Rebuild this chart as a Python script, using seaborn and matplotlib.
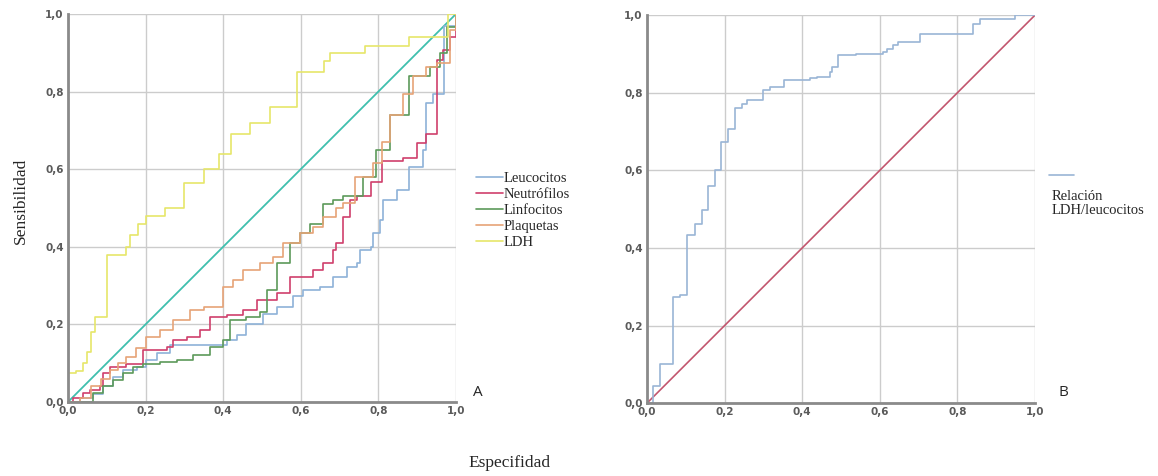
import numpy as np
import pandas as pd
import matplotlib
matplotlib.use("Agg")
import matplotlib.pyplot as plt
from matplotlib.lines import Line2D
import seaborn as sns

# Panel A - ROC curves (x = 1 - especificidad, y = sensibilidad)
leuco_x = [0.0, 0.03, 0.065, 0.09, 0.117, 0.143, 0.177, 0.2, 0.229, 0.263, 0.41, 0.435, 0.46, 0.503, 0.538,
           0.58, 0.607, 0.65, 0.684, 0.72, 0.745, 0.754, 0.78, 0.787, 0.804, 0.813, 0.847, 0.88, 0.916,
           0.924, 0.94, 0.97, 1.0]
leuco_y = [0.0, 0.01, 0.02, 0.04, 0.065, 0.082, 0.09, 0.108, 0.125, 0.147, 0.16, 0.172, 0.2, 0.228, 0.246,
           0.272, 0.289, 0.297, 0.323, 0.349, 0.357, 0.392, 0.4, 0.435, 0.469, 0.52, 0.547, 0.607, 0.65,
           0.77, 0.795, 0.97, 1.0]

neutro_x = [0.0, 0.014, 0.04, 0.057, 0.083, 0.09, 0.108, 0.15, 0.194, 0.254, 0.27, 0.306, 0.34, 0.366,
            0.41, 0.452, 0.486, 0.538, 0.572, 0.632, 0.658, 0.684, 0.692, 0.71, 0.727, 0.744, 0.78, 0.81,
            0.864, 0.9, 0.924, 0.95, 0.967, 0.984, 1.0]
neutro_y = [0.0, 0.01, 0.022, 0.03, 0.04, 0.074, 0.09, 0.099, 0.134, 0.143, 0.16, 0.168, 0.186, 0.22,
            0.224, 0.237, 0.263, 0.28, 0.323, 0.34, 0.357, 0.392, 0.409, 0.478, 0.52, 0.53, 0.566, 0.62,
            0.63, 0.667, 0.69, 0.882, 0.907, 0.94, 1.0]

linfo_x = [0.0, 0.065, 0.09, 0.117, 0.143, 0.168, 0.194, 0.237, 0.28, 0.323, 0.366, 0.40, 0.417, 0.46,
           0.495, 0.512, 0.538, 0.572, 0.598, 0.624, 0.658, 0.684, 0.71, 0.76, 0.795, 0.83, 0.88, 0.933,
           0.96, 0.977, 1.0]
linfo_y = [0.0, 0.022, 0.04, 0.057, 0.074, 0.09, 0.099, 0.103, 0.108, 0.121, 0.143, 0.16, 0.211, 0.22,
           0.233, 0.289, 0.357, 0.409, 0.435, 0.46, 0.511, 0.52, 0.53, 0.58, 0.65, 0.74, 0.84, 0.864,
           0.9, 0.967, 1.0]

plaq_x = [0.0, 0.03, 0.06, 0.085, 0.108, 0.13, 0.15, 0.175, 0.2, 0.237, 0.27, 0.315, 0.35, 0.40, 0.426,
          0.452, 0.495, 0.529, 0.555, 0.598, 0.632, 0.658, 0.692, 0.71, 0.74, 0.787, 0.81, 0.83, 0.864,
          0.89, 0.924, 0.95, 0.985, 1.0]
plaq_y = [0.0, 0.01, 0.04, 0.06, 0.082, 0.1, 0.117, 0.14, 0.168, 0.186, 0.211, 0.237, 0.245, 0.297, 0.314,
          0.34, 0.357, 0.375, 0.409, 0.435, 0.452, 0.478, 0.5, 0.512, 0.58, 0.615, 0.67, 0.74, 0.795,
          0.84, 0.864, 0.873, 0.96, 1.0]

ldh_x = [0.0, 0.0, 0.02, 0.04, 0.05, 0.06, 0.07, 0.1, 0.15, 0.16, 0.18, 0.2, 0.25, 0.30, 0.35, 0.39, 0.42,
         0.47, 0.52, 0.59, 0.66, 0.675, 0.765, 0.88, 0.98, 1.0]
ldh_y = [0.0, 0.075, 0.08, 0.1, 0.13, 0.18, 0.22, 0.38, 0.40, 0.43, 0.46, 0.48, 0.5, 0.565, 0.6, 0.64, 0.69,
         0.72, 0.76, 0.85, 0.88, 0.9, 0.917, 0.94, 1.0, 1.0]

# Panel B - Relación LDH/leucocitos
rel_x = [0.0, 0.016, 0.033, 0.068, 0.085, 0.102, 0.124, 0.141, 0.158, 0.175, 0.192, 0.21, 0.228, 0.244,
         0.257, 0.3, 0.317, 0.352, 0.42, 0.437, 0.472, 0.476, 0.493, 0.54, 0.609, 0.618, 0.635, 0.648,
         0.703, 0.841, 0.858, 0.949, 1.0]
rel_y = [0.0, 0.043, 0.1, 0.274, 0.278, 0.433, 0.463, 0.497, 0.56, 0.6, 0.673, 0.708, 0.76, 0.772,
         0.781, 0.807, 0.816, 0.833, 0.837, 0.841, 0.854, 0.867, 0.897, 0.901, 0.905, 0.914, 0.923, 0.931,
         0.952, 0.978, 0.99, 1.0, 1.0]

diag = [0.0, 1.0]
ticks = [0.0, 0.2, 0.4, 0.6, 0.8, 1.0]
tick_labels = ["0,0", "0,2", "0,4", "0,6", "0,8", "1,0"]

names_a = ["Leucocitos", "Neutrófilos", "Linfocitos", "Plaquetas", "LDH"]
colors_a = ["#8eb2d8", "#cf3f6c", "#5c9a5a", "#e6a377", "#e6e66a"]

sns.set_style("whitegrid")
plt.rcParams["font.family"] = ["DejaVu Sans"]

fig = plt.figure(figsize=(11.58, 4.76), dpi=100)
ax1 = fig.add_axes([0.0587, 0.1555, 0.335, 0.815])
ax2 = fig.add_axes([0.5587, 0.153, 0.335, 0.815])

# build long data for panel A
curves = [(leuco_x, leuco_y), (neutro_x, neutro_y), (linfo_x, linfo_y), (plaq_x, plaq_y), (ldh_x, ldh_y)]
frames = []
for name, (xs, ys) in zip(names_a, curves):
    frames.append(pd.DataFrame({"x": xs, "y": ys, "curva": name}))
df_a = pd.concat(frames, ignore_index=True)

sns.lineplot(x=diag, y=diag, ax=ax1, color="#3fbfae", lw=1.3, estimator=None)
sns.lineplot(data=df_a, x="x", y="y", hue="curva", palette=dict(zip(names_a, colors_a)),
             estimator=None, sort=False, drawstyle="steps-post", lw=1.2, ax=ax1, legend=False)

sns.lineplot(x=diag, y=diag, ax=ax2, color="#c2566e", lw=1.2, estimator=None)
sns.lineplot(x=rel_x, y=rel_y, ax=ax2, color="#9ab5d6", lw=1.2, estimator=None, sort=False,
             drawstyle="steps-post")

for ax in (ax1, ax2):
    ax.set_xlim(0, 1)
    ax.set_ylim(0, 1)
    ax.set_xticks(ticks)
    ax.set_yticks(ticks)
    ax.set_xticklabels(tick_labels)
    ax.set_yticklabels(tick_labels)
    ax.tick_params(axis="both", length=0, pad=3, labelsize=7.5, labelcolor="#5a5a5a")
    for lab in ax.get_xticklabels() + ax.get_yticklabels():
        lab.set_fontweight("bold")
    ax.grid(True, color="#cccccc", lw=1.0)
    ax.set_xlabel("")
    ax.set_ylabel("")
    for side in ("top", "right"):
        ax.spines[side].set_visible(False)
    for side in ("left", "bottom"):
        ax.spines[side].set_color("#8a8a8a")
        ax.spines[side].set_linewidth(2)

serif = "Liberation Serif"
handles = [Line2D([], [], color=c, lw=1.2) for c in colors_a]
fig.legend(handles, names_a, loc="upper left", bbox_to_anchor=(0.405, 0.655), frameon=False,
           prop={"family": serif, "size": 10.5}, handlelength=1.8, handletextpad=0.1,
           labelspacing=0.2, borderpad=0)

fig.legend([Line2D([], [], color="#9ab5d6", lw=1.2)], [""], loc="upper left",
           bbox_to_anchor=(0.9, 0.66), frameon=False, handlelength=1.8, borderpad=0)
fig.text(0.908, 0.60, "Relación\nLDH/leucocitos", family=serif, fontsize=10.5, va="top",
         ha="left", linespacing=1.1)

fig.text(0.018, 0.578, "Sensibilidad", family=serif, fontsize=12.5, rotation=90, va="center", ha="center")
fig.text(0.44, 0.027, "Especifidad", family=serif, fontsize=12.5, va="center", ha="center")
fig.text(0.413, 0.175, "A", fontsize=11, family="Open Sans", va="center", ha="center")
fig.text(0.918, 0.175, "B", fontsize=11, family="Open Sans", va="center", ha="center")

fig.savefig("out.png", dpi=100)
